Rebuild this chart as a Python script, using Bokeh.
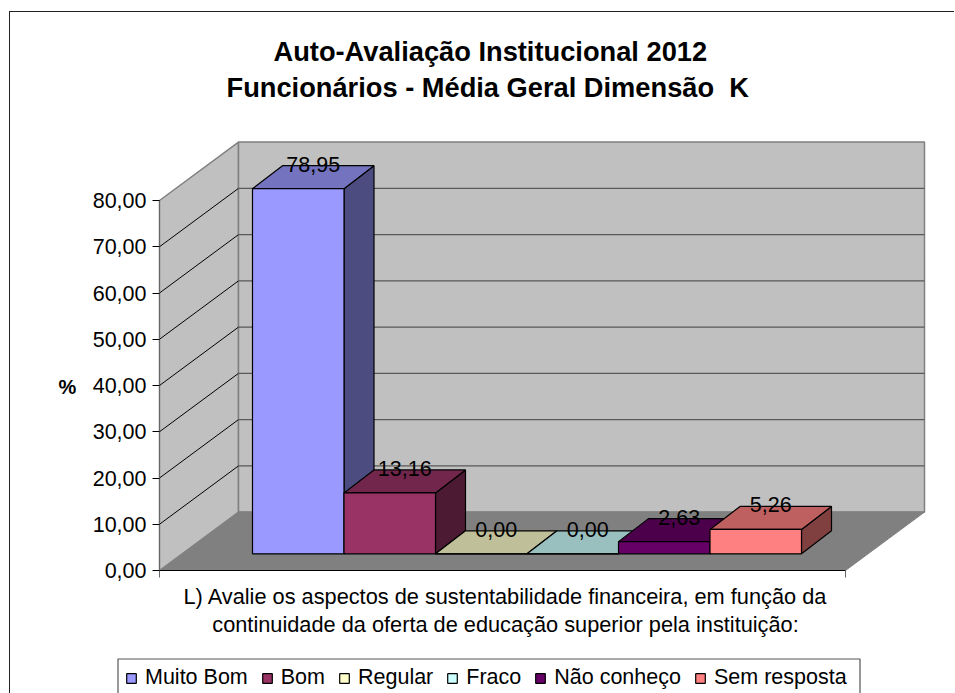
from bokeh.plotting import figure
from bokeh.models import Range1d, FixedTicker, Legend, LegendItem, Title, Label
from bokeh.core.properties import value
from bokeh.embed import file_html
from bokeh.resources import INLINE

title_lines = ["Auto-Avaliação Institucional 2012", "Funcionários - Média Geral Dimensão \u00a0K"]
x_title = "L) Avalie os aspectos de sustentabilidade financeira, em função da\ncontinuidade da oferta de educação superior pela instituição:"
y_title = "%"
categories = ["Muito Bom", "Bom", "Regular", "Fraco", "Não conheço", "Sem resposta"]
values = [78.95, 13.16, 0.00, 0.00, 2.63, 5.26]
value_labels = ["78,95", "13,16", "0,00", "0,00", "2,63", "5,26"]
colors = ["#9999FF", "#993366", "#FFFFCC", "#CCFFFF", "#660066", "#FF8080"]
y_ticks = [0, 10, 20, 30, 40, 50, 60, 70, 80]
y_tick_labels = ["0,00", "10,00", "20,00", "30,00", "40,00", "50,00", "60,00", "70,00", "80,00"]

FONT = "Liberation Sans"
OX, OY = 10, 12           # canvas origin in the picture
W, H = 945, 684
AX_L, AX_R, AX_B, AX_T = 159, 845, 570, 200   # front axis box, image px
FRAME_T = 125
SLOT = 91.5
BAR0 = 252
PPU = (AX_B - AX_T) / 80.0
WALL_DX, WALL_DY = 79 / SLOT, 58.4 / PPU
BAR_LIFT = (AX_B - 553.3) / PPU
DEPTH_X, DEPTH_Y = 30 / SLOT, 23 / PPU
LABEL_UP = 1.5 / PPU


def X(px):
    return (px - BAR0) / SLOT


def Y(px):
    return (AX_B - px) / PPU


def shade(hex_color, f):
    r, g, b = (int(hex_color[i:i + 2], 16) for i in (1, 3, 5))
    return "#%02X%02X%02X" % (round(r * f), round(g * f), round(b * f))


p = figure(width=W, height=H, output_backend="svg", toolbar_location=None,
           x_range=Range1d(X(OX), X(OX + W)), y_range=Range1d(Y(OY + H), Y(FRAME_T)),
           min_border_left=0, min_border_right=0,
           min_border_top=FRAME_T - OY, min_border_bottom=0,
           outline_line_color=None, background_fill_color="white", border_fill_color="white",
           styles={"margin-left": "9px", "margin-top": "11px",
                   "border-left": "1px solid #222222", "border-top": "1px solid #222222"})
p.grid.visible = False

p.title = Title(text=title_lines[0], text_font=FONT, text_font_size="27.25px", text_font_style="bold",
                text_color="black", align="left", offset=273 - OX, standoff=-40)
p.add_layout(Title(text=title_lines[1], text_font=FONT, text_font_size="27.25px", text_font_style="bold",
                   text_color="black", align="left", offset=226 - OX, standoff=46), "above")

# walls and floor
xl, xr = X(AX_L), X(AX_R)
ymax = y_ticks[-1]
p.patch([xl, xr, xr + WALL_DX, xl + WALL_DX], [0, 0, WALL_DY, WALL_DY],
        fill_color="#808080", line_color="#808080", line_width=1)
p.patch([xl, xl, xl + WALL_DX, xl + WALL_DX], [0, ymax, ymax + WALL_DY, WALL_DY],
        fill_color="#C0C0C0", line_color="#808080", line_width=1.5)
p.patch([xl + WALL_DX, xr + WALL_DX, xr + WALL_DX, xl + WALL_DX],
        [WALL_DY, WALL_DY, ymax + WALL_DY, ymax + WALL_DY],
        fill_color="#C0C0C0", line_color="#808080", line_width=1.5)
for t in y_ticks[1:-1]:
    p.line([xl, xl + WALL_DX], [t, t + WALL_DY], line_color="black", line_width=1)
    p.line([xl + WALL_DX, xr + WALL_DX], [t + WALL_DY, t + WALL_DY], line_color="#595959", line_width=1.4)
p.line([xl + WALL_DX, xr + WALL_DX], [WALL_DY, WALL_DY], line_color="#808080", line_width=1)

# left axis
ya = p.yaxis[0]
ya.fixed_location = xl
ya.ticker = FixedTicker(ticks=y_ticks)
ya.major_label_overrides = dict(zip(y_ticks, y_tick_labels))
ya.bounds = (0, 80)
ya.major_tick_in = 0
ya.major_tick_out = 7
ya.minor_tick_line_color = None
ya.major_tick_line_color = "black"
ya.axis_line_color = "#666666"
ya.major_label_standoff = 6
ya.major_label_text_font = FONT
ya.major_label_text_font_size = "21.5px"
ya.major_label_text_color = "black"

# bottom axis
xa = p.xaxis[0]
xa.fixed_location = 0
ends = [xl, xr]
xa.ticker = FixedTicker(ticks=ends)
xa.major_label_overrides = {ends[0]: "", ends[1]: ""}
xa.bounds = (ends[0], ends[1])
xa.major_tick_in = 0
xa.major_tick_out = 7
xa.minor_tick_line_color = None
xa.major_tick_line_color = "#666666"
xa.axis_line_color = "black"

# axis names
p.add_layout(Label(x=X(67), y=Y(386), text=y_title, text_font=FONT, text_font_size="20px",
                   text_font_style="bold", text_color="black", text_align="center",
                   text_baseline="middle"))
p.add_layout(Label(x=X(505), y=Y(610), text=x_title, text_font=FONT, text_font_size="21.75px",
                   text_color="black", text_align="center", text_baseline="middle",
                   text_line_height=1.15))

# bars
items = []
for i, (cat, v, c) in enumerate(zip(categories, values, colors)):
    b = BAR_LIFT
    t = b + v
    L, R = i, i + 1
    p.patch([R, R + DEPTH_X, R + DEPTH_X, R], [b, b + DEPTH_Y, t + DEPTH_Y, t],
            fill_color=shade(c, 0.5), line_color="black", line_width=1.2)
    p.patch([L, R, R + DEPTH_X, L + DEPTH_X], [t, t, t + DEPTH_Y, t + DEPTH_Y],
            fill_color=shade(c, 0.75), line_color="black", line_width=1.2)
    front = p.quad(left=[L], right=[R], bottom=[b], top=[t],
                   fill_color=c, line_color="black", line_width=1.2)
    items.append(LegendItem(label=cat, renderers=[front]))

p.text(x=[i + 0.5 + DEPTH_X / 2 for i in range(len(values))],
       y=[BAR_LIFT + v + DEPTH_Y + LABEL_UP for v in values],
       text=value_labels, text_font=value(FONT), text_font_size="21.5px",
       text_align="center", text_baseline="middle", text_color="black")

# legend box, then the legend inside it
p.quad(left=[X(117.5)], right=[X(859.5)], top=[Y(658.5)], bottom=[Y(720)],
       fill_color="white", line_color="#555555", line_width=1.2)
legend = Legend(items=items, orientation="horizontal", location=(115, 6),
                glyph_width=12, glyph_height=12, label_standoff=8, spacing=13, margin=0,
                padding=0, label_text_font=FONT, label_text_font_size="21.5px",
                label_text_color="black", border_line_color=None,
                background_fill_alpha=0)
p.add_layout(legend, "center")

open("out.html", "w").write(file_html(p, INLINE))
